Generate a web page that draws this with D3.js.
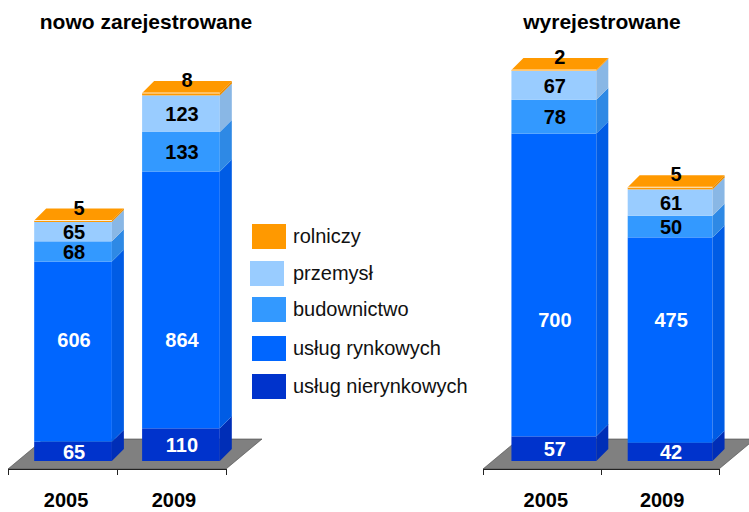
<!DOCTYPE html>
<html>
<head>
<meta charset="utf-8">
<script src="https://cdn.jsdelivr.net/npm/d3@7"></script>
<style>
    body { margin: 0; background: #fff; }
    svg { display: block; font-family: "Liberation Sans", Arial, sans-serif; }
</style>
</head>
<body>
<svg id="chart"></svg>
<script>
// Data
var years = ["2005", "2009"];
var sectors = ["usług nierynkowych", "usług rynkowych", "budownictwo", "przemysł", "rolniczy"];
var colours = ["#0033CC", "#0066FF", "#3399FF", "#99CCFF", "#FF9900"];

// values per sector, in the order of years
var nowoNierynkowe = [65, 110];
var nowoRynkowe = [606, 864];
var nowoBudownictwo = [68, 133];
var nowoPrzemysl = [65, 123];
var nowoRolniczy = [5, 8];

var wyrNierynkowe = [57, 42];
var wyrRynkowe = [700, 475];
var wyrBudownictwo = [78, 50];
var wyrPrzemysl = [67, 61];
var wyrRolniczy = [2, 5];

var width = 749,
    height = 512,
    depth = 12,          // 3d offset of bars
    floorDx = 36,
    floorDy = 30,
    baseY = 461,         // front bottom of bars
    floorY = 469;        // front edge of floor

var svg = d3.select("#chart")
    .attr("width", width)
    .attr("height", height);

function buildRows(series) {
    return years.map(function (year, i) {
        var row = {year: year};
        sectors.forEach(function (s, k) {
            row[s] = series[k][i];
        });
        return row;
    });
}

function drawPanel(opts) {
    var rows = buildRows(opts.series);
    var stacked = d3.stack().keys(sectors)(rows);
    var total = d3.max(rows, function (r) {
        return d3.sum(sectors, function (s) { return r[s]; });
    });

    var x = d3.scaleBand()
        .domain(years)
        .range([opts.x0, opts.x1])
        .paddingInner(opts.padInner)
        .paddingOuter(opts.padOuter);

    var y = d3.scaleLinear()
        .domain([0, total])
        .range([baseY, opts.top]);

    var g = svg.append("g");

    // Title
    g.append("text")
        .attr("x", opts.titleX)
        .attr("y", 29)
        .attr("text-anchor", "middle")
        .attr("font-size", "21px")
        .attr("font-weight", "bold")
        .text(opts.title);

    // Floor
    var fl = [
        [opts.x0, floorY],
        [opts.x1, floorY],
        [opts.x1 + floorDx, floorY - floorDy],
        [opts.x0 + floorDx, floorY - floorDy]
    ];
    g.append("path")
        .attr("d", "M" + fl.join("L") + "Z")
        .attr("fill", "#808080")
        .attr("stroke", "#444")
        .attr("stroke-width", 0.6);

    // Front edge with ticks between categories
    var tickScale = d3.scaleLinear().domain([0, years.length]).range([opts.x0, opts.x1]);
    g.append("g")
        .attr("transform", "translate(0," + floorY + ")")
        .call(d3.axisBottom(tickScale)
            .tickValues(d3.range(years.length + 1))
            .tickFormat("")
            .tickSize(6)
            .tickSizeOuter(6))
        .call(function (a) {
            a.selectAll("path, line").attr("stroke", "#222").attr("stroke-width", 1);
        });

    // Year labels
    g.selectAll(".year")
        .data(years)
        .enter().append("text")
        .attr("x", function (d) { return x(d) + x.bandwidth() / 2 + 3; })
        .attr("y", 507)
        .attr("text-anchor", "middle")
        .attr("font-size", "20px")
        .attr("font-weight", "bold")
        .text(function (d) { return d; });

    var shift = opts.shift;
    var bw = x.bandwidth();

    stacked.forEach(function (layer, k) {
        var col = d3.color(colours[k]);
        var side = col.darker(0.3).toString();
        var isTop = k === sectors.length - 1;

        layer.forEach(function (d, i) {
            var x0 = x(years[i]) + shift,
                x1 = x0 + bw,
                yTop = y(d[1]),
                yBot = y(d[0]);

            // front face
            g.append("rect")
                .attr("x", x0)
                .attr("y", yTop)
                .attr("width", bw)
                .attr("height", yBot - yTop)
                .attr("fill", colours[k]);

            // side face
            var sp = [[x1, yBot], [x1 + depth, yBot - depth], [x1 + depth, yTop - depth], [x1, yTop]];
            g.append("path")
                .attr("d", "M" + sp.join("L") + "Z")
                .attr("fill", side);

            if (isTop) {
                var tp = [[x0, yTop], [x1, yTop], [x1 + depth, yTop - depth], [x0 + depth, yTop - depth]];
                g.append("path")
                    .attr("d", "M" + tp.join("L") + "Z")
                    .attr("fill", colours[k]);
                g.append("line")
                    .attr("x1", x0).attr("x2", x1)
                    .attr("y1", yTop).attr("y2", yTop)
                    .attr("stroke", "#fff")
                    .attr("stroke-width", 0.8);
            }

            // value label
            var value = d[1] - d[0];
            var lx = x0 + bw / 2 + 1,
                ly = (yTop + yBot) / 2;
            if (isTop) {
                lx = x0 + bw / 2 + depth / 2;
                ly = yTop - 13;
            }
            // the big segment labels sit on one line per panel
            if (k === 1) {
                ly = opts.bigLabelY;
            }
            g.append("text")
                .attr("x", lx)
                .attr("y", ly)
                .attr("dy", "0.36em")
                .attr("text-anchor", "middle")
                .attr("font-size", "20px")
                .attr("font-weight", "bold")
                .attr("fill", k < 2 ? "#fff" : "#000")
                .text(value);
        });
    });
}

drawPanel({
    title: "nowo zarejestrowane",
    titleX: 146,
    series: [nowoNierynkowe, nowoRynkowe, nowoBudownictwo, nowoPrzemysl, nowoRolniczy],
    x0: 8, x1: 226,
    padInner: 0.28, padOuter: 0.15,
    shift: 10,
    top: 93,
    bigLabelY: 340
});

drawPanel({
    title: "wyrejestrowane",
    titleX: 602,
    series: [wyrNierynkowe, wyrRynkowe, wyrBudownictwo, wyrPrzemysl, wyrRolniczy],
    x0: 483, x1: 719,
    padInner: 0.27, padOuter: 0.15,
    shift: 11,
    top: 70,
    bigLabelY: 320
});

// Legend, top entry first
var legendItems = sectors.slice().reverse();
var legendColours = colours.slice().reverse();
var legendTops = [224, 261, 297, 336, 374];

var legend = svg.append("g");
legend.selectAll("rect")
    .data(legendItems)
    .enter().append("rect")
    .attr("x", function (d, i) { return i === 1 ? 250 : 252; })
    .attr("y", function (d, i) { return legendTops[i]; })
    .attr("width", 34)
    .attr("height", 25)
    .attr("fill", function (d, i) { return legendColours[i]; });

legend.selectAll("text")
    .data(legendItems)
    .enter().append("text")
    .attr("x", 293)
    .attr("y", function (d, i) { return legendTops[i] + 19; })
    .attr("font-size", "20px")
    .attr("fill", "#111")
    .text(function (d) { return d; });
</script>
</body>
</html>
